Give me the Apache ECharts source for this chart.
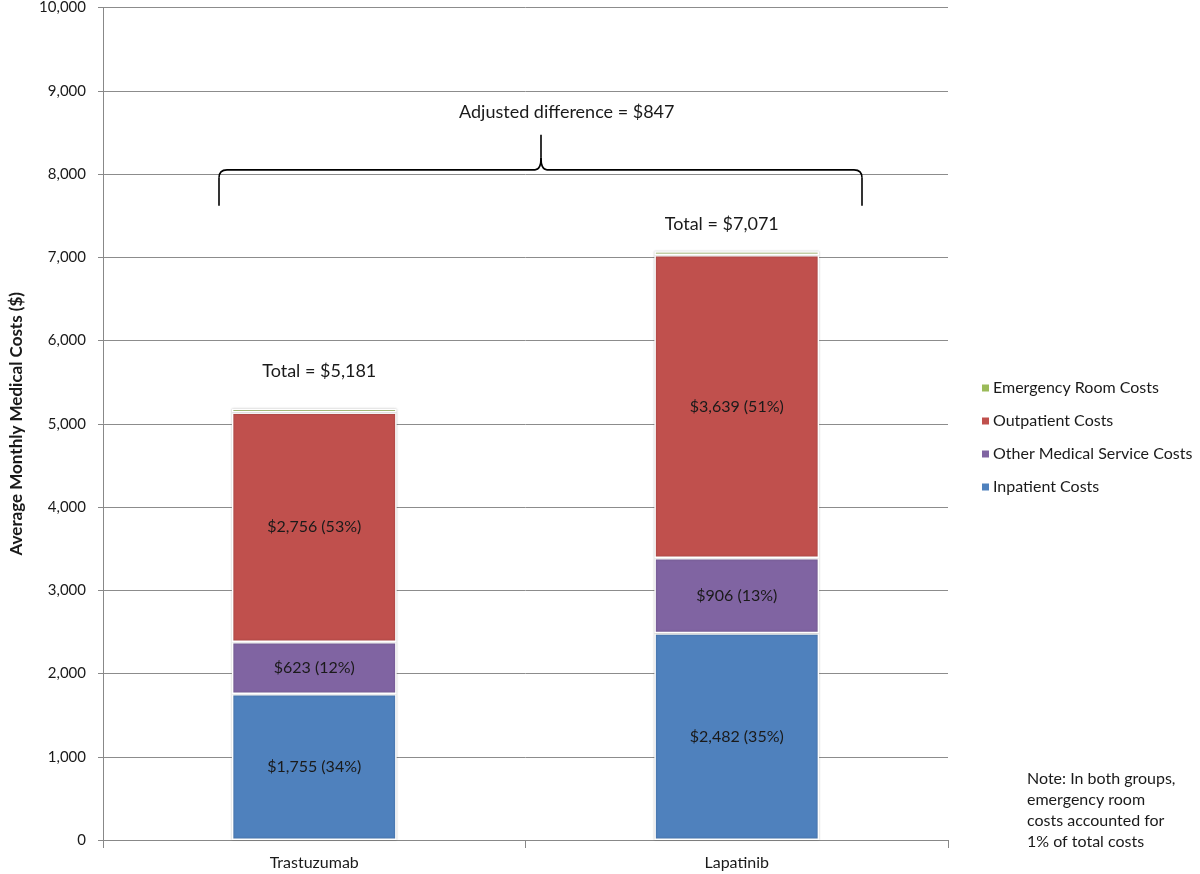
<!DOCTYPE html>
<html>
<head>
<meta charset="utf-8">
<script src="https://cdn.jsdelivr.net/npm/echarts@6/dist/echarts.min.js"></script>
<style>html,body{margin:0;padding:0;background:#fff;}#c{width:1200px;height:874px;}</style>
</head>
<body>
<div id="c"></div>
<script>
const categories = ['Trastuzumab', 'Lapatinib'];
const inpatient = [1755, 2482];
const inpatientPct = [34, 35];
const otherMedical = [623, 906];
const otherMedicalPct = [12, 13];
const outpatient = [2756, 3639];
const outpatientPct = [53, 51];
const emergency = [47, 44];
const totals = [5181, 7071];
const adjustedDifference = 847;
const yTicks = [0, 1000, 2000, 3000, 4000, 5000, 6000, 7000, 8000, 9000, 10000];

const FONT = 'Lato, "Open Sans", sans-serif';
const fmt = v => '$' + v.toLocaleString('en-US');

const chart = echarts.init(document.getElementById('c'), null, {renderer: 'canvas'});

function segLabel(vals, pcts) {
  return {
    show: true, position: 'inside', color: '#1a1a1a', fontFamily: FONT, fontSize: 16,
    formatter: p => fmt(vals[p.dataIndex]) + ' (' + pcts[p.dataIndex] + '%)'
  };
}
const itemBase = {borderColor: '#ffffff', borderWidth: 1.5, shadowColor: 'rgba(0,0,0,0.25)', shadowBlur: 2};
const totalLabelOffsets = [[5, 0], [-15, 0]];
const totalLabelDistances = [28, 18];

const option = {
  backgroundColor: '#ffffff',
  animation: false,
  textStyle: {fontFamily: FONT},
  grid: {left: 98, right: 252, top: 7, bottom: 34, containLabel: false},
  legend: {
    orient: 'vertical', left: 975, top: 375, itemWidth: 9, itemHeight: 9, itemGap: 17,
    icon: 'rect',
    textStyle: {fontFamily: FONT, fontSize: 16, color: '#1a1a1a', padding: [0, 0, 0, -2]},
    data: ['Emergency Room Costs', 'Outpatient Costs', 'Other Medical Service Costs', 'Inpatient Costs']
  },
  xAxis: {
    type: 'category', data: categories,
    axisLine: {lineStyle: {color: '#888', width: 1}},
    axisTick: {show: true, alignWithLabel: false, length: 8, lineStyle: {color: '#888'}},
    axisLabel: {fontFamily: FONT, fontSize: 16, color: '#1a1a1a', margin: 15}
  },
  yAxis: {
    type: 'value', min: 0, max: 10000, interval: 1000,
    name: 'Average Monthly Medical Costs ($)', nameLocation: 'middle', nameGap: 78,
    nameTextStyle: {fontFamily: FONT, fontSize: 17, fontWeight: 'bold', color: '#1a1a1a'},
    axisLine: {show: true, lineStyle: {color: '#888', width: 1}},
    axisTick: {show: true, length: 5, lineStyle: {color: '#888'}},
    splitLine: {lineStyle: {color: '#8c8c8c', width: 1}},
    axisLabel: {fontFamily: FONT, fontSize: 15, color: '#1a1a1a', margin: 17,
      formatter: v => yTicks.includes(v) ? v.toLocaleString('en-US') : ''}
  },
  series: [
    {name: 'Inpatient Costs', type: 'bar', stack: 's', barWidth: '39%', data: inpatient,
     itemStyle: Object.assign({color: '#4F81BD'}, itemBase), label: segLabel(inpatient, inpatientPct)},
    {name: 'Other Medical Service Costs', type: 'bar', stack: 's', data: otherMedical,
     itemStyle: Object.assign({color: '#8064A2'}, itemBase), label: segLabel(otherMedical, otherMedicalPct)},
    {name: 'Outpatient Costs', type: 'bar', stack: 's', data: outpatient,
     itemStyle: Object.assign({color: '#C0504D'}, itemBase), label: segLabel(outpatient, outpatientPct)},
    {name: 'Emergency Room Costs', type: 'bar', stack: 's',
     data: emergency.map((v, i) => ({
       value: v,
       label: {show: true, position: 'top', distance: totalLabelDistances[i], offset: totalLabelOffsets[i],
               fontFamily: FONT, fontSize: 18, color: '#1a1a1a',
               formatter: () => 'Total = ' + fmt(totals[i])}
     })),
     itemStyle: Object.assign({color: '#9BBB59'}, itemBase)}
  ]
};
chart.setOption(option);

// Brace annotation, anchored in data space on the value axis
const yH = chart.convertToPixel({yAxisIndex: 0}, 8050);
const yTip = chart.convertToPixel({yAxisIndex: 0}, 7620);
const yPeak = chart.convertToPixel({yAxisIndex: 0}, 8470);
const x0 = 219, x1 = 862, xm = 541, r = 8;
const braceStyle = {stroke: '#000', lineWidth: 1.6, fill: null};
const brace = [
  {type: 'line', shape: {x1: x0, y1: yTip, x2: x0, y2: yH + r}},
  {type: 'bezierCurve', shape: {x1: x0, y1: yH + r, cpx1: x0, cpy1: yH, x2: x0 + r, y2: yH}},
  {type: 'line', shape: {x1: x0 + r, y1: yH, x2: xm - 6, y2: yH}},
  {type: 'bezierCurve', shape: {x1: xm - 6, y1: yH, cpx1: xm, cpy1: yH, x2: xm, y2: yH - 12}},
  {type: 'line', shape: {x1: xm, y1: yH - 12, x2: xm, y2: yPeak}},
  {type: 'bezierCurve', shape: {x1: xm + 6, y1: yH, cpx1: xm, cpy1: yH, x2: xm, y2: yH - 12}},
  {type: 'line', shape: {x1: xm + 6, y1: yH, x2: x1 - r, y2: yH}},
  {type: 'bezierCurve', shape: {x1: x1 - r, y1: yH, cpx1: x1, cpy1: yH, x2: x1, y2: yH + r}},
  {type: 'line', shape: {x1: x1, y1: yH + r, x2: x1, y2: yTip}}
].map(e => Object.assign(e, {style: braceStyle, z: 10}));

chart.setOption({
  graphic: brace.concat([
    {type: 'text', left: 459, top: 103, z: 10, style: {text: 'Adjusted difference = ' + fmt(adjustedDifference), font: '18px ' + FONT, fill: '#1a1a1a'}},
    {type: 'text', left: 1027, top: 768, z: 10, style: {text: 'Note: In both groups,\nemergency room\ncosts accounted for\n1% of total costs', font: '16px ' + FONT, lineHeight: 21, fill: '#1a1a1a'}}
  ])
});
</script>
</body>
</html>
